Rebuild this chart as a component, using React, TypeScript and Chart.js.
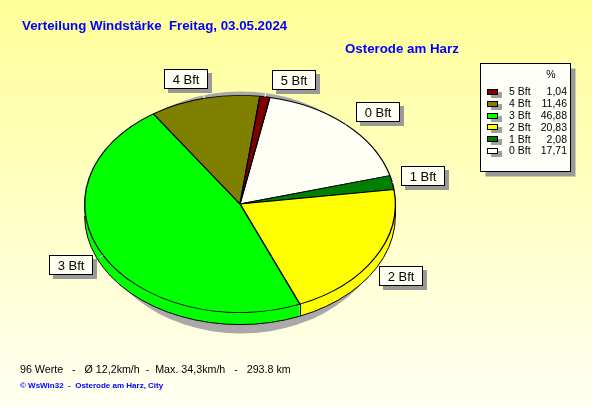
import React, { useEffect, useRef } from 'react';
import { Chart, registerables } from 'chart.js';

Chart.register(...registerables);

// ---------- data ----------
const categories = ['0 Bft', '1 Bft', '2 Bft', '3 Bft', '4 Bft', '5 Bft'];
const percents = [17.71, 2.08, 20.83, 46.88, 11.46, 1.04];
const sliceColors = ['#FFFFF6', '#008000', '#FFFF00', '#00FF00', '#808000', '#800000'];
const swatchColors = ['#FFFFFF', '#008000', '#FFFF00', '#00FF00', '#808000', '#800000'];
const titleText = 'Verteilung Windstärke  Freitag, 03.05.2024';
const subtitleText = 'Osterode am Harz';
const footerText = '96 Werte   -   Ø 12,2km/h  -  Max. 34,3km/h   -   293.8 km';
const creditText = '© WsWin32  -  Osterode am Harz, City';
const legendHeader = '%';
const startRotation = 11.1; // degrees clockwise from 12 o'clock

// ---------- style ----------
const W = 592;
const H = 407;
const TILT = 0.699;
const DEPTH = 12;
const FONT = '"Liberation Sans", Arial, sans-serif';

const fmt = (v: number) => v.toFixed(2).replace('.', ',');

const decoPlugin = {
  id: 'deco',
  beforeDraw(chart: any) {
    const { ctx, width, height } = chart;
    ctx.save();
    const g = ctx.createLinearGradient(0, 0, 0, height);
    g.addColorStop(0, '#FFFF98');
    g.addColorStop(1, '#FFFFF2');
    ctx.fillStyle = g;
    ctx.fillRect(0, 0, width, height);
    // drop shadow of the pie
    const arcs = chart.getDatasetMeta(0).data as any[];
    if (arcs.length) {
      const { x, y } = arcs[0];
      const R = arcs[0].outerRadius;
      const ry = R * TILT;
      ctx.fillStyle = '#A9A9A9';
      ctx.beginPath();
      ctx.ellipse(x + 1, y + 8.5, R * 0.962, ry + 12.5, 0, 0, Math.PI * 2);
      ctx.closePath();
      ctx.fill();
    }
    ctx.restore();
  },
  beforeDatasetsDraw(chart: any) {
    const ctx = chart.ctx;
    const arcs = chart.getDatasetMeta(0).data as any[];
    const { x, y } = arcs[0];
    const R = arcs[0].outerRadius;
    const ry = R * TILT;
    ctx.save();
    // side walls
    for (let d = DEPTH; d >= 1; d--) {
      ctx.save();
      ctx.translate(x, y + d);
      ctx.scale(1, TILT);
      arcs.forEach((arc: any) => {
        ctx.beginPath();
        ctx.moveTo(0, 0);
        ctx.arc(0, 0, R, arc.startAngle, arc.endAngle);
        ctx.closePath();
        ctx.fillStyle = arc.options.backgroundColor;
        ctx.fill();
      });
      ctx.restore();
    }
    ctx.strokeStyle = '#000';
    ctx.lineWidth = 1;
    ctx.beginPath();
    ctx.ellipse(x, y + DEPTH, R, ry, 0, 0, Math.PI);
    ctx.stroke();
    const edges = [0, Math.PI, ...arcs.map((a: any) => a.startAngle)];
    edges.forEach((a) => {
      const s = Math.sin(a);
      const c = Math.cos(a);
      if (s < -0.001) return;
      const ex = Math.round(x + R * c) + 0.5;
      ctx.beginPath();
      ctx.moveTo(ex, y + ry * s);
      ctx.lineTo(ex, y + ry * s + DEPTH);
      ctx.stroke();
    });
    ctx.restore();
    // squash the top face into an ellipse
    ctx.save();
    ctx.translate(x, y);
    ctx.scale(1, TILT);
    ctx.translate(-x, -y);
  },
  afterDatasetsDraw(chart: any) {
    const ctx = chart.ctx;
    ctx.restore();
    const arcs = chart.getDatasetMeta(0).data as any[];
    const { x, y } = arcs[0];
    const R = arcs[0].outerRadius;
    const ry = R * TILT;
    ctx.save();
    arcs.forEach((arc: any, i: number) => {
      const mid = (arc.startAngle + arc.endAngle) / 2;
      const c = Math.cos(mid);
      const s = Math.sin(mid);
      const rimX = x + R * c;
      const rimY = y + ry * s;
      const ax = x + (R + 8) * c - 6 * s;
      const ay = y + (ry + 8) * s + 5 * c;
      ctx.strokeStyle = '#FFFFFF';
      ctx.lineWidth = 1;
      ctx.beginPath();
      ctx.moveTo(rimX, rimY);
      ctx.lineTo(x + (R + 4) * c, y + (ry + 4) * s);
      ctx.stroke();
      ctx.font = `13px ${FONT}`;
      const text = categories[i];
      const tw = ctx.measureText(text).width;
      const bw = Math.round(tw + 17);
      const bh = 20;
      const bx = Math.round(c >= 0 ? ax : ax - bw);
      const by = Math.round(s < 0 ? ay - bh : ay);
      ctx.fillStyle = '#999999';
      ctx.fillRect(bx + 4, by + 4, bw, bh);
      ctx.fillStyle = '#FFFFF2';
      ctx.fillRect(bx, by, bw, bh);
      ctx.strokeStyle = '#000';
      ctx.strokeRect(bx + 0.5, by + 0.5, bw - 1, bh - 1);
      ctx.fillStyle = '#000';
      ctx.textAlign = 'center';
      ctx.textBaseline = 'middle';
      ctx.fillText(text, bx + bw / 2, by + bh / 2 + 1);
    });
    ctx.restore();
  },
  afterDraw(chart: any) {
    const ctx = chart.ctx;
    ctx.save();
    // titles
    ctx.fillStyle = '#0000FF';
    ctx.textAlign = 'left';
    ctx.textBaseline = 'alphabetic';
    ctx.font = `bold 13.3px ${FONT}`;
    ctx.fillText(titleText, 22, 30);
    ctx.fillText(subtitleText, 345, 53);
    ctx.fillStyle = '#000';
    ctx.font = `10.7px ${FONT}`;
    ctx.fillText(footerText, 20, 373);
    ctx.fillStyle = '#0000FF';
    ctx.font = `bold 8px ${FONT}`;
    ctx.fillText(creditText, 20, 388);

    // legend
    const lx = 480.5;
    const ly = 63.5;
    const lw = 90;
    const lh = 108;
    ctx.fillStyle = '#999999';
    ctx.fillRect(lx + 5, ly + 5, lw, lh);
    ctx.fillStyle = '#FFFFFA';
    ctx.fillRect(lx, ly, lw, lh);
    ctx.strokeStyle = '#000';
    ctx.lineWidth = 1;
    ctx.strokeRect(lx, ly, lw, lh);
    ctx.font = `10.5px ${FONT}`;
    ctx.fillStyle = '#000';
    ctx.textAlign = 'center';
    ctx.textBaseline = 'alphabetic';
    ctx.fillText(legendHeader, 551, 78);
    const n = categories.length;
    for (let r = 0; r < n; r++) {
      const i = n - 1 - r;
      const cy = 92 + r * 11.8;
      const sy = Math.round(cy - 3);
      ctx.fillStyle = '#A0A0A0';
      ctx.fillRect(491, sy + 3, 11, 6);
      ctx.fillStyle = swatchColors[i];
      ctx.fillRect(487, sy, 11, 6);
      ctx.strokeStyle = '#000';
      ctx.strokeRect(487.5, sy + 0.5, 10, 5);
      ctx.fillStyle = '#000';
      ctx.textBaseline = 'middle';
      ctx.textAlign = 'left';
      ctx.fillText(categories[i], 509, cy + 0.5);
      ctx.textAlign = 'right';
      ctx.fillText(fmt(percents[i]), 567, cy + 0.5);
    }
    ctx.restore();
  },
};

export default function App() {
  const ref = useRef<HTMLCanvasElement | null>(null);
  useEffect(() => {
    if (!ref.current) return;
    const chart = new Chart(ref.current, {
      type: 'pie',
      data: {
        labels: categories,
        datasets: [
          {
            data: percents,
            backgroundColor: sliceColors,
            borderColor: '#000000',
            borderWidth: 1.3,
            hoverOffset: 0,
          },
        ],
      },
      options: {
        responsive: false,
        animation: false,
        rotation: startRotation,
        layout: { padding: { left: 84, right: 196, top: 48, bottom: 47 } },
        plugins: {
          legend: { display: false },
          title: { display: false },
          tooltip: { enabled: false },
        },
        events: [],
      },
      plugins: [decoPlugin],
    });
    return () => chart.destroy();
  }, []);
  return (
    <div style={{ position: 'absolute', left: 0, top: 0, width: W, height: H }}>
      <canvas ref={ref} width={W} height={H} style={{ display: 'block', width: W, height: H }} />
    </div>
  );
}
